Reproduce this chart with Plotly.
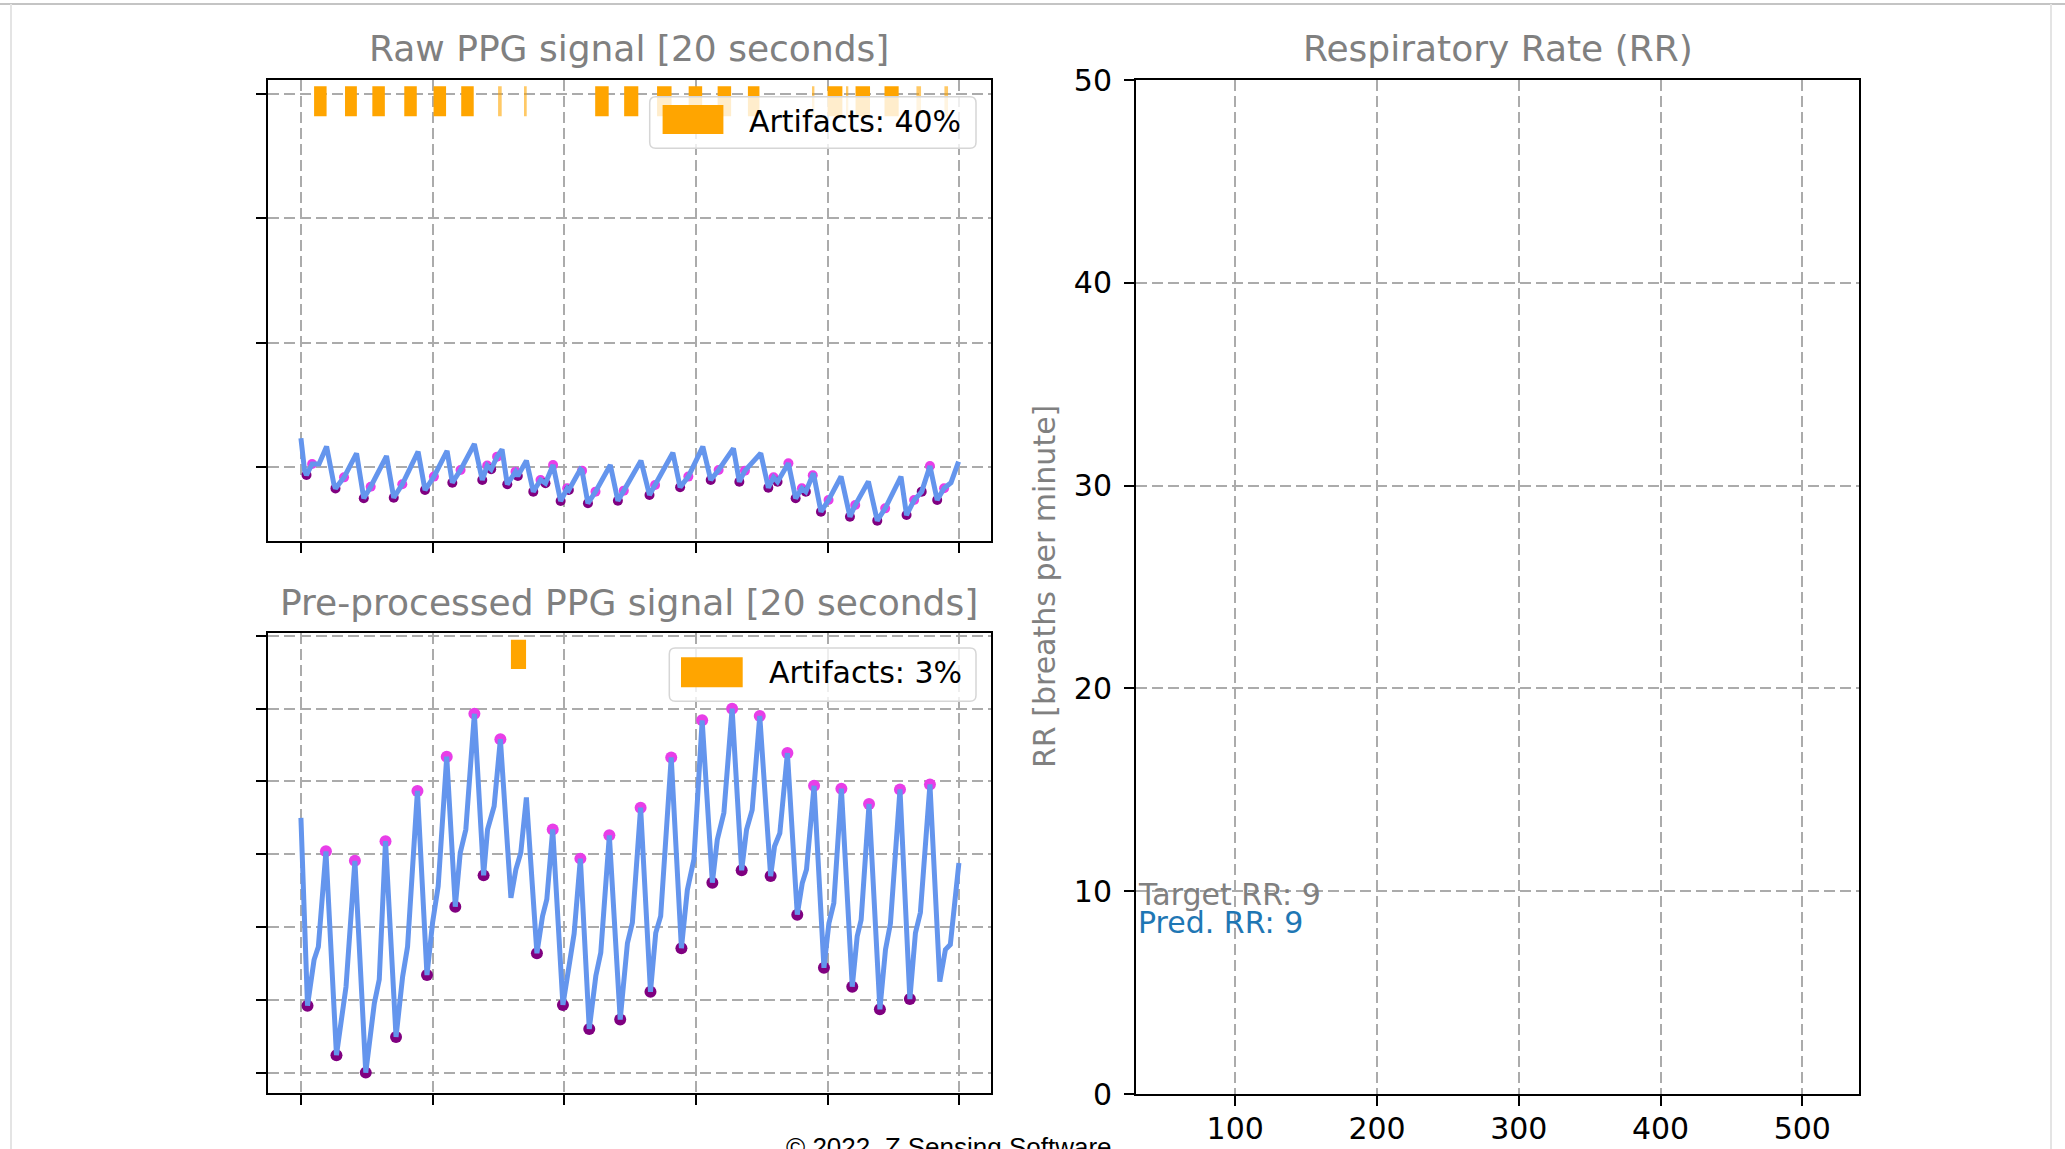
import plotly.graph_objects as go

# ---------------- data ----------------
signal_xticks = [0, 4, 8, 12, 16, 20]
raw_yticks = [0, 1, 2, 3]
pre_yticks = [0, 1, 2, 3, 4, 5, 6]
rr_xticks = [100, 200, 300, 400, 500]
rr_yticks = [0, 10, 20, 30, 40, 50]

raw_t = [0.0, 0.11, 0.17, 0.34, 0.55, 0.78, 1.0, 1.05, 1.31, 1.69, 1.91, 2.12, 2.60, 2.82, 3.08, 3.56,
         3.77, 4.04, 4.44, 4.60, 4.85, 5.27, 5.51, 5.66, 5.78, 5.96, 6.11, 6.27, 6.52, 6.59, 6.85,
         7.06, 7.28, 7.43, 7.66, 7.89, 8.09, 8.14, 8.49, 8.54, 8.72, 8.95, 9.40, 9.63, 9.81, 10.33,
         10.59, 10.76, 11.30, 11.52, 11.77, 12.21, 12.45, 12.69, 13.14, 13.32, 13.49, 13.97, 14.20,
         14.36, 14.48, 14.81, 15.03, 15.22, 15.34, 15.57, 15.80, 16.03, 16.41, 16.68, 16.84, 17.24,
         17.51, 17.75, 18.23, 18.40, 18.63, 18.86, 19.11, 19.33, 19.54, 19.75, 19.98]
raw_v = [0.228, -0.03, -0.068, 0.021, 0.02, 0.161, -0.14, -0.176, -0.087, 0.107, -0.256, -0.162, 0.085,
         -0.251, -0.143, 0.12, -0.189, -0.081, 0.126, -0.130, -0.027, 0.182, -0.108, 0.008, -0.022,
         0.080, 0.139, -0.143, -0.041, -0.076, 0.048, -0.202, -0.108, -0.135, 0.013, -0.278, -0.175,
         -0.189, -0.022, -0.033, -0.296, -0.202, 0.013, -0.275, -0.194, 0.048, -0.229, -0.149, 0.112,
         -0.167, -0.081, 0.161, -0.108, -0.027, 0.147, -0.122, -0.033, 0.107, -0.170, -0.087, -0.122,
         0.026, -0.256, -0.175, -0.202, -0.054, -0.364, -0.270, -0.08, -0.404, -0.310, -0.12, -0.436,
         -0.337, -0.08, -0.391, -0.270, -0.202, 0.005, -0.270, -0.175, -0.13, 0.04]

raw_trough_t = [0.17, 1.05, 1.91, 2.82, 3.77, 4.60, 5.51, 5.78, 6.27, 6.59, 7.06, 7.43, 7.89, 8.14, 8.72,
                9.63, 10.59, 11.52, 12.45, 13.32, 14.20, 14.48, 15.03, 15.34, 15.80, 16.68, 17.51, 18.40,
                18.86, 19.33]
raw_trough_v = [-0.068, -0.176, -0.256, -0.251, -0.189, -0.130, -0.108, -0.022, -0.143, -0.076, -0.202,
                -0.135, -0.278, -0.189, -0.296, -0.275, -0.229, -0.167, -0.108, -0.122, -0.170, -0.122,
                -0.256, -0.202, -0.364, -0.404, -0.436, -0.391, -0.202, -0.270]
raw_peak_t = [0.34, 1.31, 2.12, 3.08, 4.04, 4.85, 5.66, 5.96, 6.52, 7.28, 7.66, 8.09, 8.54, 8.95, 9.81,
              10.76, 11.77, 12.69, 13.49, 14.36, 14.81, 15.22, 15.55, 16.03, 16.84, 17.75, 18.63, 19.11,
              19.54]
raw_peak_v = [0.021, -0.087, -0.162, -0.143, -0.081, -0.027, 0.008, 0.080, -0.041, -0.108, 0.013, -0.175,
              -0.033, -0.202, -0.194, -0.149, -0.081, -0.027, -0.033, -0.087, 0.026, -0.175, -0.070,
              -0.270, -0.310, -0.337, -0.270, 0.005, -0.175]

raw_art_start = [0.40, 1.34, 2.17, 3.14, 4.03, 4.87, 5.99, 6.80, 8.94, 9.82, 10.82, 11.78, 12.66, 13.58,
                 15.55, 16.00, 16.58, 16.85, 17.73, 18.70, 19.55]
raw_art_end = [0.78, 1.70, 2.55, 3.52, 4.41, 5.25, 6.10, 6.86, 9.35, 10.25, 11.26, 12.19, 13.07, 13.93,
               15.60, 16.45, 16.63, 17.29, 18.16, 18.84, 19.66]
raw_art_low, raw_art_high = 2.824, 3.066
raw_artifact_pct = 40

pre_t = [0.0, 0.2, 0.40, 0.53, 0.76, 1.08, 1.37, 1.64, 1.97, 2.23, 2.38, 2.57, 2.89, 3.09, 3.24, 3.54,
         3.83, 4.0, 4.17, 4.43, 4.69, 4.84, 5.01, 5.27, 5.55, 5.67, 5.87, 6.06, 6.38, 6.53, 6.68, 6.85,
         7.17, 7.34, 7.47, 7.65, 7.96, 8.15, 8.30, 8.49, 8.76, 8.96, 9.11, 9.37, 9.70, 9.92, 10.07,
         10.32, 10.62, 10.78, 10.93, 11.25, 11.56, 11.74, 11.94, 12.19, 12.50, 12.65, 12.85, 13.10,
         13.39, 13.54, 13.71, 13.94, 14.27, 14.39, 14.55, 14.78, 15.08, 15.23, 15.36, 15.59, 15.89,
         16.04, 16.19, 16.42, 16.75, 16.90, 17.02, 17.26, 17.59, 17.76, 17.91, 18.20, 18.50, 18.67,
         18.82, 19.11, 19.41, 19.58, 19.73, 19.99]
pre_v = [3.5, 0.92, 1.55, 1.73, 3.04, 0.24, 1.18, 2.91, 0.0, 0.95, 1.28, 3.18, 0.49, 1.32, 1.73, 3.87,
         1.34, 2.06, 2.56, 4.34, 2.28, 3.02, 3.34, 4.93, 2.71, 3.34, 3.66, 4.58, 2.40, 2.79, 3.02, 3.78,
         1.64, 2.15, 2.38, 3.34, 0.93, 1.45, 1.91, 2.94, 0.60, 1.33, 1.65, 3.26, 0.73, 1.78, 2.06, 3.64,
         1.11, 1.92, 2.15, 4.33, 1.71, 2.51, 2.93, 4.84, 2.61, 3.2, 3.57, 5.0, 2.78, 3.34, 3.61, 4.90,
         2.70, 3.11, 3.29, 4.39, 2.17, 2.6, 2.79, 3.94, 1.44, 2.05, 2.33, 3.90, 1.18, 1.87, 2.10, 3.69,
         0.87, 1.69, 2.05, 3.89, 1.01, 1.92, 2.2, 3.96, 1.25, 1.69, 1.76, 2.88]

pre_peak_t = [0.76, 1.64, 2.57, 3.54, 4.43, 5.27, 6.06, 7.65, 8.49, 9.37, 10.32, 11.25, 12.19, 13.10, 13.94,
              14.78, 15.59, 16.42, 17.26, 18.20, 19.11]
pre_peak_v = [3.04, 2.91, 3.18, 3.87, 4.34, 4.93, 4.58, 3.34, 2.94, 3.26, 3.64, 4.33, 4.84, 5.0, 4.90,
              4.39, 3.94, 3.90, 3.69, 3.89, 3.96]
pre_trough_t = [0.2, 1.08, 1.97, 2.89, 3.83, 4.69, 5.55, 7.17, 7.96, 8.76, 9.70, 10.62, 11.56, 12.50,
                13.39, 14.27, 15.08, 15.89, 16.75, 17.59, 18.50]
pre_trough_v = [0.92, 0.24, 0.0, 0.49, 1.34, 2.28, 2.71, 1.64, 0.93, 0.60, 0.73, 1.11, 1.71, 2.61, 2.78,
                2.70, 2.17, 1.44, 1.18, 0.87, 1.01]

pre_art_start = [6.38]
pre_art_end = [6.84]
pre_art_low, pre_art_high = 5.545, 5.948
pre_artifact_pct = 3

target_rr = 9
pred_rr = 9

# ---------------- style ----------------
W, H = 2065, 1149
FONT = "DejaVu Sans"
LINE_C = "#6495ED"
PEAK_C = "#e83ee8"
TROUGH_C = "#800080"
ART_C = "#FFA500"
GRID_C = "#ababab"
GRAY_T = "#808080"


def px(x):
    return x / W


def py(y):
    return 1 - y / H


fig = go.Figure()


def add_artifacts(starts, ends, low, high, xa, ya):
    centers = [(s + e) / 2 for s, e in zip(starts, ends)]
    widths = [max(e - s, 0.05) for s, e in zip(starts, ends)]
    opac = [1.0 if (e - s) > 0.2 else 0.6 for s, e in zip(starts, ends)]
    fig.add_trace(go.Bar(x=centers, width=widths, base=[low] * len(centers),
                         y=[high - low] * len(centers), marker=dict(color=ART_C, opacity=opac, line_width=0),
                         xaxis=xa, yaxis=ya, showlegend=False, hoverinfo="skip"))


add_artifacts(raw_art_start, raw_art_end, raw_art_low, raw_art_high, "x", "y")
add_artifacts(pre_art_start, pre_art_end, pre_art_low, pre_art_high, "x2", "y2")

# markers (under line)
fig.add_trace(go.Scatter(x=raw_peak_t, y=raw_peak_v, mode="markers", xaxis="x", yaxis="y",
                         marker=dict(color=PEAK_C, size=10), showlegend=False))
fig.add_trace(go.Scatter(x=raw_trough_t, y=raw_trough_v, mode="markers", xaxis="x", yaxis="y",
                         marker=dict(color=TROUGH_C, size=10), showlegend=False))
fig.add_trace(go.Scatter(x=raw_t, y=raw_v, mode="lines", xaxis="x", yaxis="y",
                         line=dict(color=LINE_C, width=5), showlegend=False))

fig.add_trace(go.Scatter(x=pre_peak_t, y=pre_peak_v, mode="markers", xaxis="x2", yaxis="y2",
                         marker=dict(color=PEAK_C, size=12), showlegend=False))
fig.add_trace(go.Scatter(x=pre_trough_t, y=pre_trough_v, mode="markers", xaxis="x2", yaxis="y2",
                         marker=dict(color=TROUGH_C, size=12), showlegend=False))
fig.add_trace(go.Scatter(x=pre_t, y=pre_v, mode="lines", xaxis="x2", yaxis="y2",
                         line=dict(color=LINE_C, width=5), showlegend=False))

axis_common = dict(showline=True, mirror=True, linecolor="black", linewidth=2,
                   ticks="outside", ticklen=10, tickwidth=2, tickcolor="black",
                   showgrid=True, gridcolor=GRID_C, gridwidth=2, griddash="11px,5px",
                   zeroline=False, automargin=False,
                   tickfont=dict(family=FONT, size=30, color="black"))

dom_sig_x = [px(268), px(990.5)]
dom_rr_x = [px(1136), px(1859)]

fig.update_layout(
    width=W, height=H, margin=dict(l=0, r=0, t=0, b=0, pad=0, autoexpand=False),
    paper_bgcolor="white", plot_bgcolor="white", showlegend=False, barmode="overlay",
    font=dict(family=FONT, size=30),
    xaxis=dict(domain=dom_sig_x, range=[-1, 20.95], tickvals=signal_xticks, showticklabels=False,
               anchor="y", **axis_common),
    yaxis=dict(domain=[py(541), py(80.4)], range=[-0.6, 3.113], tickvals=raw_yticks,
               showticklabels=False, anchor="x", **axis_common),
    xaxis2=dict(domain=dom_sig_x, range=[-1, 20.95], tickvals=signal_xticks, showticklabels=False,
                anchor="y2", **axis_common),
    yaxis2=dict(domain=[py(1093), py(633)], range=[-0.28, 6.04], tickvals=pre_yticks,
                showticklabels=False, anchor="x2", **axis_common),
    xaxis3=dict(domain=dom_rr_x, range=[30, 540], tickvals=rr_xticks, anchor="y3",
                ticklabelstandoff=-3, **axis_common),
    yaxis3=dict(domain=[py(1094), py(80)], range=[0, 50], tickvals=rr_yticks, anchor="x3",
                ticklabelstandoff=6, **axis_common),
)

# titles
ann = []
ann.append(dict(text="Raw PPG signal [20 seconds]", x=(dom_sig_x[0] + dom_sig_x[1]) / 2, y=py(49),
                xref="paper", yref="paper", showarrow=False, xanchor="center", yanchor="middle",
                font=dict(family=FONT, size=36, color=GRAY_T)))
ann.append(dict(text="Pre-processed PPG signal [20 seconds]", x=(dom_sig_x[0] + dom_sig_x[1]) / 2,
                y=py(602), xref="paper", yref="paper", showarrow=False, xanchor="center",
                yanchor="middle", font=dict(family=FONT, size=36, color=GRAY_T)))
ann.append(dict(text="Respiratory Rate (RR)", x=(dom_rr_x[0] + dom_rr_x[1]) / 2, y=py(49),
                xref="paper", yref="paper", showarrow=False, xanchor="center", yanchor="middle",
                font=dict(family=FONT, size=36, color=GRAY_T)))
ann.append(dict(text="RR [breaths per minute]", x=px(1044), y=py(587), xref="paper", yref="paper",
                showarrow=False, textangle=-90, xanchor="center", yanchor="middle",
                font=dict(family=FONT, size=30, color=GRAY_T)))
# RR texts (matplotlib-like va='bottom' / va='top' around the value)
ann.append(dict(text=f"Target RR: {target_rr}", x=30, y=target_rr, xref="x3", yref="y3",
                showarrow=False, xanchor="left", yanchor="middle", yshift=17,
                font=dict(family=FONT, size=30, color=GRAY_T)))
ann.append(dict(text=f"Pred. RR: {pred_rr}", x=30, y=pred_rr, xref="x3", yref="y3",
                showarrow=False, xanchor="left", yanchor="middle", yshift=-11,
                font=dict(family=FONT, size=30, color="#1f77b4")))
# copyright (cut off at the bottom, as in the source frame)
ann.append(dict(text="© 2022, Z Sensing Software", x=px(784), y=py(1130), xref="paper", yref="paper",
                showarrow=False, xanchor="left", yanchor="top",
                font=dict(family="Liberation Sans", size=26, color="black")))

shapes = []


def rounded_box(x0, y0, x1, y1, r=6):
    rx, ry = r / W, r / H
    X0, X1 = px(x0), px(x1)
    Y0, Y1 = py(y0), py(y1)  # Y0 top, Y1 bottom
    return (f"M{X0 + rx},{Y0} L{X1 - rx},{Y0} Q{X1},{Y0} {X1},{Y0 - ry} "
            f"L{X1},{Y1 + ry} Q{X1},{Y1} {X1 - rx},{Y1} L{X0 + rx},{Y1} "
            f"Q{X0},{Y1} {X0},{Y1 + ry} L{X0},{Y0 - ry} Q{X0},{Y0} {X0 + rx},{Y0} Z")


def legend(box, patch, text_x, text_y, label):
    shapes.append(dict(type="path", path=rounded_box(*box), xref="paper", yref="paper",
                       fillcolor="rgba(255,255,255,0.8)", line=dict(color="#d6d6d6", width=1.5),
                       layer="above"))
    shapes.append(dict(type="rect", x0=px(patch[0]), x1=px(patch[2]), y0=py(patch[3]), y1=py(patch[1]),
                       xref="paper", yref="paper", fillcolor=ART_C, line_width=0, layer="above"))
    ann.append(dict(text=label, x=px(text_x), y=py(text_y), xref="paper", yref="paper", showarrow=False,
                    xanchor="left", yanchor="middle", font=dict(family=FONT, size=30, color="black")))


legend((649.7, 96.7, 976, 148.3), (662.6, 105, 723.4, 134), 747, 121, f"Artifacts: {raw_artifact_pct}%")
legend((669.3, 648, 976, 701.3), (681, 657.3, 742.7, 687.3), 767, 672.5, f"Artifacts: {pre_artifact_pct}%")

# page frame lines of the screenshot
shapes.append(dict(type="line", x0=0, x1=1, y0=py(4), y1=py(4), xref="paper", yref="paper",
                   line=dict(color="#c4c4c4", width=2)))
shapes.append(dict(type="line", x0=px(11), x1=px(11), y0=py(4), y1=0, xref="paper", yref="paper",
                   line=dict(color="#e4e4e4", width=2)))
shapes.append(dict(type="line", x0=px(2051), x1=px(2051), y0=py(4), y1=0, xref="paper", yref="paper",
                   line=dict(color="#e4e4e4", width=2)))

fig.update_layout(annotations=ann, shapes=shapes)

fig.write_html("out.html", config={"displayModeBar": False},
               post_script="document.body.style.margin='0';document.body.style.overflow='hidden';")
